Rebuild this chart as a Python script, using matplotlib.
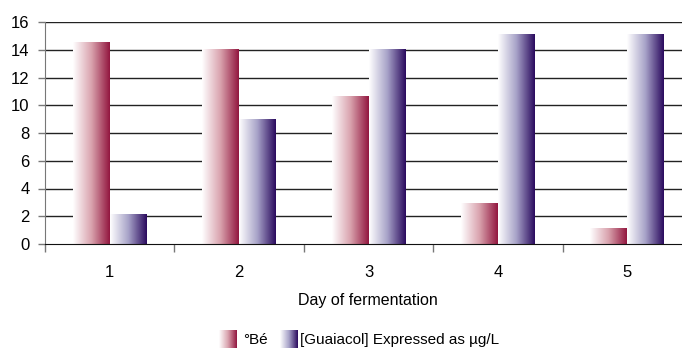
import numpy as np
import matplotlib
matplotlib.use("Agg")
import matplotlib.pyplot as plt
from matplotlib.colors import LinearSegmentedColormap

plt.rcParams['font.family'] = ['Liberation Sans Narrow', 'Liberation Sans', 'DejaVu Sans']

days = ["1", "2", "3", "4", "5"]
baume = [14.5, 14.0, 10.6, 2.9, 1.1]
guaiacol = [2.1, 9.0, 14.0, 15.1, 15.1]
series_names = ["°Bé", "[Guaiacol] Expressed as µg/L"]
y_ticks = [0, 2, 4, 6, 8, 10, 12, 14, 16]

red_cmap = LinearSegmentedColormap.from_list("red_grad", ["#ffffff", "#d9a3ae", "#92163f"])
blue_cmap = LinearSegmentedColormap.from_list("blue_grad", ["#ffffff", "#a7a2c8", "#2a0a5e"])
grad = np.linspace(0, 1, 256).reshape(1, -1)

fig = plt.figure(figsize=(6.82, 3.51), dpi=100)
ax = fig.add_axes([45 / 682, 1 - 244 / 351, (692 - 45) / 682, (244 - 22) / 351])

n = len(days)

bar_w = 0.285
for i in range(n):
    c = i + 0.5
    for vals, cmap, x0 in ((baume, red_cmap, c - bar_w), (guaiacol, blue_cmap, c)):
        v = vals[i]
        ax.imshow(grad, cmap=cmap, aspect='auto', extent=(x0, x0 + bar_w, 0, v),
                  interpolation='bilinear', zorder=3)

ax.set_xlim(0, n)
ax.set_ylim(0, 16)

# gridlines
for t in y_ticks[1:]:
    ax.axhline(t, color='#222222', lw=1.0, zorder=1)

ax.set_yticks(y_ticks)
ax.set_yticklabels([str(t) for t in y_ticks], fontsize=12)
ax.set_xticks(np.arange(0, n + 1))
ax.set_xticklabels([])
ax.set_xticks(np.arange(n) + 0.5, minor=True)
ax.set_xticklabels(days, minor=True, fontsize=12)
ax.tick_params(axis='x', which='major', length=6, color='#777777', width=1)
ax.tick_params(axis='x', which='minor', length=0, pad=15)
ax.tick_params(axis='y', length=5, color='#777777', width=1, pad=6)

for s in ('top', 'right'):
    ax.spines[s].set_visible(False)
ax.spines['left'].set_color('#777777')
ax.spines['bottom'].set_color('#111111')
ax.spines['bottom'].set_zorder(4)

fig.text(368 / 682, 1 - 300 / 351, "Day of fermentation", ha='center', va='center', fontsize=11.5)

# legend with gradient swatches
legend_items = [(red_cmap, 219, 243, series_names[0]), (blue_cmap, 280, 300, series_names[1])]
for cmap, px, tx, label in legend_items:
    lax = fig.add_axes([px / 682, 1 - 348 / 351, 18 / 682, 18 / 351])
    lax.imshow(grad, cmap=cmap, aspect='auto', interpolation='bilinear')
    lax.axis('off')
    fig.text(tx / 682, 1 - 340 / 351, label, ha='left', va='center', fontsize=11)

fig.savefig("out.png", dpi=100)
